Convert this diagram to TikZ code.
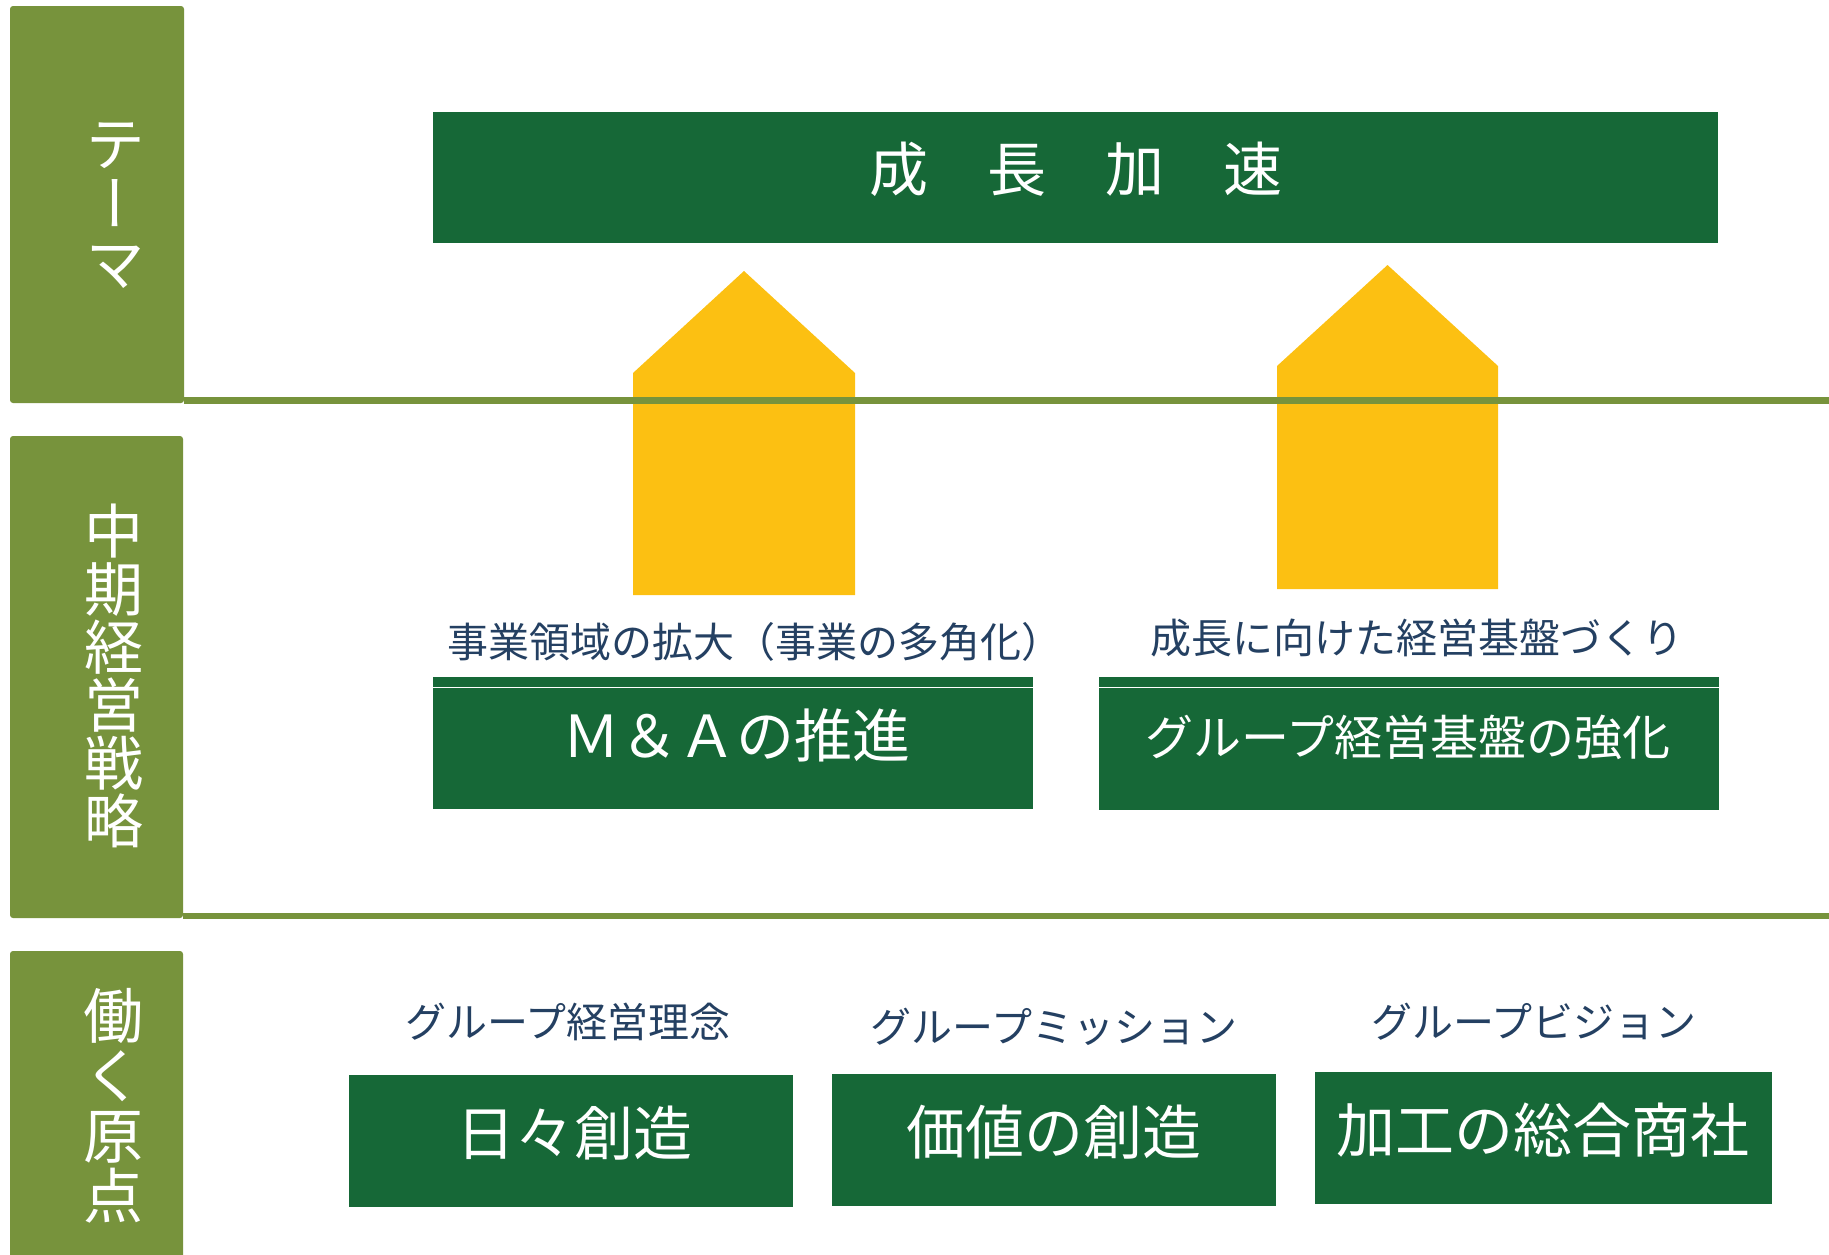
\documentclass[tikz,border=0pt]{standalone}
\usepackage{fontspec}
\setmainfont{Noto Sans CJK JP}
\newfontfamily\tatefont[RawFeature=+vert]{Noto Sans CJK JP}
\usepackage{tikz}
\usetikzlibrary{positioning,calc}
\definecolor{olivebar}{RGB}{119,147,60}
\definecolor{darkbox}{RGB}{22,104,55}
\definecolor{arrowyellow}{RGB}{252,192,18}
\definecolor{labelblue}{RGB}{36,64,98}
\tikzset{
  tabbox/.style={fill=olivebar, rounded corners=1.5pt, inner sep=0pt},
  tabtext/.style={text=white, align=center, inner sep=0pt},
  greenbox/.style={fill=darkbox, inner sep=0pt},
  boxtext/.style={text=white, inner sep=0pt},
  capt/.style={text=labelblue, inner sep=0pt, font=\fontsize{20.5}{24}\selectfont},
  divider/.style={draw=olivebar, line width=3.3pt},
  uparrow/.style={fill=arrowyellow}
}

\begin{document}
\begin{tikzpicture}[x=0.5pt, y=-0.5pt]
        \useasboundingbox (0,0) rectangle (1829,1254);
        \coordinate (rim) at (1829,0);

        \node[tabbox, minimum width=87pt, minimum height=198.5pt] (themetab) at (97,204.5) {};
        \node[tabbox, minimum width=86.5pt, minimum height=241pt] (plantab) at (96.5,677) {};
        \node[tabbox, minimum width=86.5pt, minimum height=155.5pt] (origintab) at (96.5,1106.5) {};

        \node[tabtext, font=\tatefont\fontsize{30}{30}\selectfont] (themelbl) at (115,206) {テ\\ー\\マ};
        \node[tabtext, font=\tatefont\fontsize{29.5}{29}\selectfont] (planlbl) at (114,676) {中\\期\\経\\営\\戦\\略};
        \node[tabtext, font=\tatefont\fontsize{30}{30}\selectfont] (originlbl) at (113,1106) {働\\く\\原\\点};

        \fill[uparrow] (633,595) -- (633,373) -- (744,271) -- (855,373) -- (855,595) -- cycle;
        \fill[uparrow] (1277,589) -- (1277,366) -- (1387.5,265) -- (1498,366) -- (1498,589) -- cycle;

        \draw[divider] ([yshift=1.6pt]themetab.south east) -- ([yshift=1.6pt]themetab.south east -| rim);
        \draw[divider] ([yshift=1.25pt]plantab.south east) -- ([yshift=1.25pt]plantab.south east -| rim);

        \node[greenbox, minimum width=642.5pt, minimum height=65.5pt] (theme) at (1075.5,177.5) {};
        \node[boxtext, font=\fontsize{29.5}{30}\selectfont] (themetxt) at (1076,169) {成　長　加　速};

        \node[greenbox, minimum width=300pt, minimum height=66pt] (ma) at (733,743) {};
        \draw[white, line width=0.6pt] ([yshift=-5.5pt]ma.north west) -- ([yshift=-5.5pt]ma.north east);
        \node[boxtext, font=\fontsize{29}{30}\selectfont] (matxt) at (736,735) {Ｍ＆Ａの推進};
        \node[capt] (macap) at (755,642) {事業領域の拡大（事業の多角化）};

        \node[greenbox, minimum width=310pt, minimum height=66.5pt] (base) at (1409,743.5) {};
        \draw[white, line width=0.6pt] ([yshift=-5.5pt]base.north west) -- ([yshift=-5.5pt]base.north east);
        \node[boxtext, font=\fontsize{24}{30}\selectfont] (basetxt) at (1408,737) {グループ経営基盤の強化};
        \node[capt] (basecap) at (1417,638) {成長に向けた経営基盤づくり};

        \node[greenbox, minimum width=222pt, minimum height=66pt] (creed) at (571,1141) {};
        \node[boxtext, font=\fontsize{29.5}{30}\selectfont] (creedtxt) at (574,1133) {日々創造};
        \node[capt] (creedcap) at (568,1022) {グループ経営理念};

        \node[greenbox, minimum width=222pt, minimum height=66pt] (mission) at (1054,1140) {};
        \node[boxtext, font=\fontsize{29.5}{30}\selectfont] (missiontxt) at (1054,1132) {価値の創造};
        \node[capt] (missioncap) at (1054,1027) {グループミッション};

        \node[greenbox, minimum width=228.5pt, minimum height=66pt] (vision) at (1543.5,1138) {};
        \node[boxtext, font=\fontsize{29.5}{30}\selectfont] (visiontxt) at (1543,1130) {加工の総合商社};
        \node[capt] (visioncap) at (1534,1022) {グループビジョン};
\end{tikzpicture}
\end{document}
